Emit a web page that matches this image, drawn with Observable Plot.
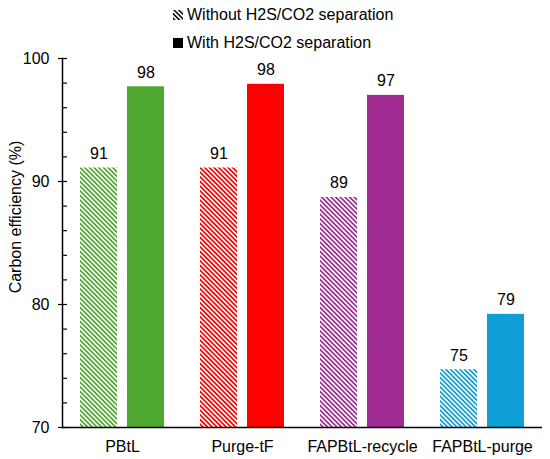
<!DOCTYPE html>
<html>
<head>
<meta charset="utf-8">
<script src="https://cdn.jsdelivr.net/npm/d3@7"></script>
<script src="https://cdn.jsdelivr.net/npm/@observablehq/plot@0.6"></script>
<style>
  body { margin: 0; background: #fff; font-family: "Liberation Sans", Arial, sans-serif; }
  #wrap { position: relative; width: 550px; height: 459px; }
  #legend { position: absolute; left: 0; top: 0; width: 550px; pointer-events: none; font-size: 16px; color: #000; }
  .item { position: absolute; left: 173px; height: 20px; line-height: 20px; display: flex; align-items: center; white-space: nowrap; }
  .sw { width: 10px; height: 10px; margin-right: 4px; flex: none; }
  #defs { position: absolute; width: 0; height: 0; }
</style>
</head>
<body>
<svg id="defs" width="0" height="0"><defs id="patdefs"></defs></svg>
<div id="wrap">
  <div id="chart"></div>
  <div id="legend"></div>
</div>
<script>
const categories = ["PBtL", "Purge-tF", "FAPBtL-recycle", "FAPBtL-purge"];
const seriesNames = ["Without H2S/CO2 separation", "With H2S/CO2 separation"];
const withoutSep = [91.1, 91.1, 88.7, 74.7];
const withSep = [97.7, 97.9, 97.0, 79.2];
const withoutLabels = [91, 91, 89, 75];
const withLabels = [98, 98, 97, 79];
const colors = ["#4EA72E", "#FF0000", "#A02B93", "#0F9ED5"];
const yTicks = [70, 80, 90, 100];
const yMinorTicks = [70, 72, 74, 76, 78, 80, 82, 84, 86, 88, 90, 92, 94, 96, 98, 100];

// hatch patterns (downward diagonal)
const NS = "http://www.w3.org/2000/svg";
const defs = document.getElementById("patdefs");
colors.forEach((c, i) => {
  const p = document.createElementNS(NS, "pattern");
  p.setAttribute("id", "hatch" + i);
  p.setAttribute("patternUnits", "userSpaceOnUse");
  p.setAttribute("width", "3.3");
  p.setAttribute("height", "3.3");
  p.setAttribute("patternTransform", "rotate(-45)");
  const r = document.createElementNS(NS, "rect");
  r.setAttribute("x", "0"); r.setAttribute("y", "0");
  r.setAttribute("width", "1.7"); r.setAttribute("height", "3.3");
  r.setAttribute("fill", c);
  p.appendChild(r);
  defs.appendChild(p);
});
{
  const p = document.createElementNS(NS, "pattern");
  p.setAttribute("id", "hatchLegend");
  p.setAttribute("patternUnits", "userSpaceOnUse");
  p.setAttribute("width", "3.3");
  p.setAttribute("height", "3.3");
  p.setAttribute("patternTransform", "rotate(-45)");
  const r = document.createElementNS(NS, "rect");
  r.setAttribute("width", "1.5"); r.setAttribute("height", "3.3");
  r.setAttribute("fill", "#000");
  p.appendChild(r);
  defs.appendChild(p);
}

const rows = [];
categories.forEach((c, i) => {
  rows.push({category: c, series: seriesNames[0], value: withoutSep[i], label: withoutLabels[i], fill: `url(#hatch${i})`});
  rows.push({category: c, series: seriesNames[1], value: withSep[i], label: withLabels[i], fill: colors[i]});
});

const chart = Plot.plot({
  width: 550,
  height: 459,
  marginLeft: 62,
  marginRight: 8,
  marginTop: 58,
  marginBottom: 32,
  style: {fontFamily: "'Liberation Sans', Arial, sans-serif", fontSize: "16px", color: "#000", background: "#fff"},
  fx: {domain: categories, padding: 0, label: null},
  x: {domain: seriesNames, paddingInner: 0.213, paddingOuter: 0.383, axis: null},
  y: {domain: [70, 100], label: null},
  color: {type: "identity"},
  marks: [
    Plot.barY(rows, {fx: "category", x: "series", y1: 70, y2: "value", fill: "fill"}),
    Plot.text(rows, {fx: "category", x: "series", y: "value", text: "label", lineAnchor: "bottom", dy: -9, fill: "#000", fontSize: 16}),
    Plot.ruleY([70], {stroke: "#000", strokeWidth: 1.5}),
    Plot.frame({anchor: "left", facetAnchor: "left", stroke: "#000", strokeWidth: 1.5}),
    Plot.axisY(yTicks, {anchor: "left", tickSize: 4, tickPadding: 9, label: null, fontSize: 16, strokeWidth: 1.2}),
    Plot.axisY(yMinorTicks, {anchor: "left", tickSize: -5, text: null, label: null, strokeWidth: 1.2}),
    Plot.axisFx({anchor: "bottom", tickSize: 0, tickPadding: 13, label: null, fontSize: 16}),
    Plot.text([{fx: categories[0], t: "Carbon efficiency (%)"}], {fx: "fx", text: "t", frameAnchor: "left", textAnchor: "middle", rotate: -90, dx: -47, dy: -26, fontSize: 16, fill: "#000"})
  ]
});
document.getElementById("chart").appendChild(chart);

// legend
const legend = document.getElementById("legend");
const items = [
  {name: seriesNames[0], fill: "url(#hatchLegend)", top: 5},
  {name: seriesNames[1], fill: "#000", top: 33}
];
items.forEach(it => {
  const d = document.createElement("div");
  d.className = "item";
  d.style.top = it.top + "px";
  const s = document.createElementNS(NS, "svg");
  s.setAttribute("class", "sw");
  s.setAttribute("width", "10"); s.setAttribute("height", "10");
  const r = document.createElementNS(NS, "rect");
  r.setAttribute("width", "10"); r.setAttribute("height", "10");
  r.setAttribute("fill", it.fill);
  s.appendChild(r);
  d.appendChild(s);
  const t = document.createElement("span");
  t.textContent = it.name;
  d.appendChild(t);
  legend.appendChild(d);
});
</script>
</body>
</html>
